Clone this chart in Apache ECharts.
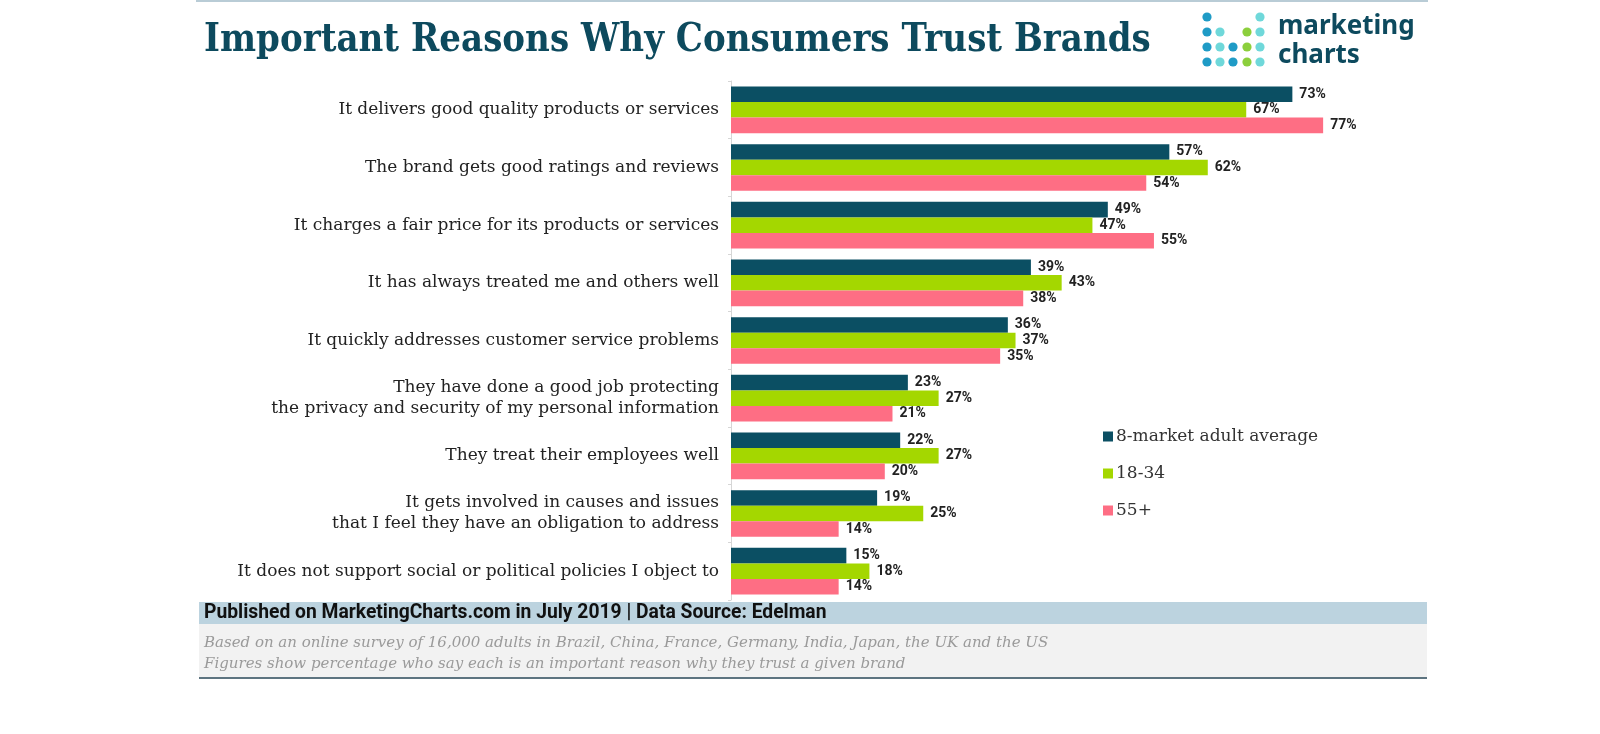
<!DOCTYPE html>
<html><head><meta charset="utf-8">
<script src="https://cdn.jsdelivr.net/npm/echarts@6/dist/echarts.min.js"></script>
<style>html,body{margin:0;padding:0;background:#fff}#c{width:1600px;height:734px}</style>
</head><body><div id="c"></div>
<script>
const categories = [
  "It delivers good quality products or services",
  "The brand gets good ratings and reviews",
  "It charges a fair price for its products or services",
  "It has always treated me and others well",
  "It quickly addresses customer service problems",
  "They have done a good job protecting\nthe privacy and security of my personal information",
  "They treat their employees well",
  "It gets involved in causes and issues\nthat I feel they have an obligation to address",
  "It does not support social or political policies I object to"
];
const seriesNames = ["8-market adult average", "18-34", "55+"];
const avgValues = [73, 57, 49, 39, 36, 23, 22, 19, 15];
const youngValues = [67, 62, 47, 43, 37, 27, 27, 25, 18];
const olderValues = [77, 54, 55, 38, 35, 21, 20, 14, 14];
const colors = ["#0b4f63", "#a4d700", "#fe6e84"];
const titleText = "Important Reasons Why Consumers Trust Brands";
const footerSource = "Published on MarketingCharts.com in July 2019 | Data Source: Edelman";
const footerNotes = [
  "Based on an online survey of 16,000 adults in Brazil, China, France, Germany, India, Japan, the UK and the US",
  "Figures show percentage who say each is an important reason why they trust a given brand"
];

const chart = echarts.init(document.getElementById('c'), null, {renderer: 'canvas'});

function mkSeries(name, data, color) {
  return {
    name: name, type: 'bar', data: data, barGap: '0%', barCategoryGap: '19%',
    itemStyle: {color: color},
    label: {show: true, position: 'right', distance: 7, formatter: '{c}%',
      fontFamily: 'Roboto', fontWeight: 'bold', fontSize: 14, color: '#222'}
  };
}

// logo dots
const dotCols = [1207, 1220, 1233, 1247, 1260];
const dotRows = [17, 32, 47, 62];
const B = '#1f9bc6', T = '#6fd8da', G = '#8ccf3c';
const dotMap = [
  [B, null, null, null, T],
  [B, T, null, G, T],
  [B, T, B, G, T],
  [B, T, B, G, T]
];
const dots = [];
dotMap.forEach((row, r) => row.forEach((c, k) => {
  if (c) dots.push({type: 'circle', shape: {cx: dotCols[k], cy: dotRows[r], r: 4.6}, style: {fill: c}});
}));

chart.setOption({
  animation: false,
  grid: {left: 731, top: 81, width: 769, height: 519, containLabel: false},
  xAxis: {type: 'value', min: 0, max: 100, show: false},
  yAxis: {
    type: 'category', data: categories, inverse: true,
    axisLine: {show: true, lineStyle: {color: '#d6d6d6'}},
    axisTick: {show: true, length: 3, lineStyle: {color: '#d6d6d6'}},
    axisLabel: {fontFamily: 'DejaVu Serif', fontSize: 17, color: '#222', margin: 12, lineHeight: 21, align: 'right'}
  },
  legend: {
    orient: 'vertical', left: 1098, top: 423, itemGap: 20,
    icon: 'rect', itemWidth: 10, itemHeight: 10,
    textStyle: {fontFamily: 'DejaVu Serif', fontSize: 17, color: '#333', padding: [0, 0, 0, -2]},
    data: seriesNames
  },
  series: [
    mkSeries(seriesNames[0], avgValues, colors[0]),
    mkSeries(seriesNames[1], youngValues, colors[1]),
    mkSeries(seriesNames[2], olderValues, colors[2])
  ],
  graphic: [
    {type: 'rect', shape: {x: 196, y: 0, width: 1232, height: 2}, style: {fill: '#b9ccd6'}},
    {type: 'text', x: 204, y: 21, scaleX: 0.853, style: {text: titleText, font: 'bold 40px "DejaVu Serif"', fill: '#0d4a5e'}},
    ...dots,
    {type: 'text', left: 1278, top: 14, style: {text: 'marketing', font: 'bold 26px "Noto Sans"', fill: '#0d4a5e'}},
    {type: 'text', left: 1278, top: 43, style: {text: 'charts', font: 'bold 26px "Noto Sans"', fill: '#0d4a5e'}},
    {type: 'rect', shape: {x: 199, y: 602, width: 1228, height: 22}, style: {fill: '#bcd3df'}},
    {type: 'rect', shape: {x: 199, y: 624, width: 1228, height: 54}, style: {fill: '#f2f2f2'}},
    {type: 'rect', shape: {x: 199, y: 677, width: 1228, height: 2}, style: {fill: '#5d7480'}},
    {type: 'text', left: 204, top: 604, style: {text: footerSource, font: 'bold 19.3px Roboto', fill: '#111'}},
    {type: 'text', left: 204, top: 636, style: {text: footerNotes[0], font: 'italic 15px "DejaVu Serif"', fill: '#9a9a9a'}},
    {type: 'text', left: 204, top: 657, style: {text: footerNotes[1], font: 'italic 15px "DejaVu Serif"', fill: '#9a9a9a'}}
  ]
});
</script></body></html>
